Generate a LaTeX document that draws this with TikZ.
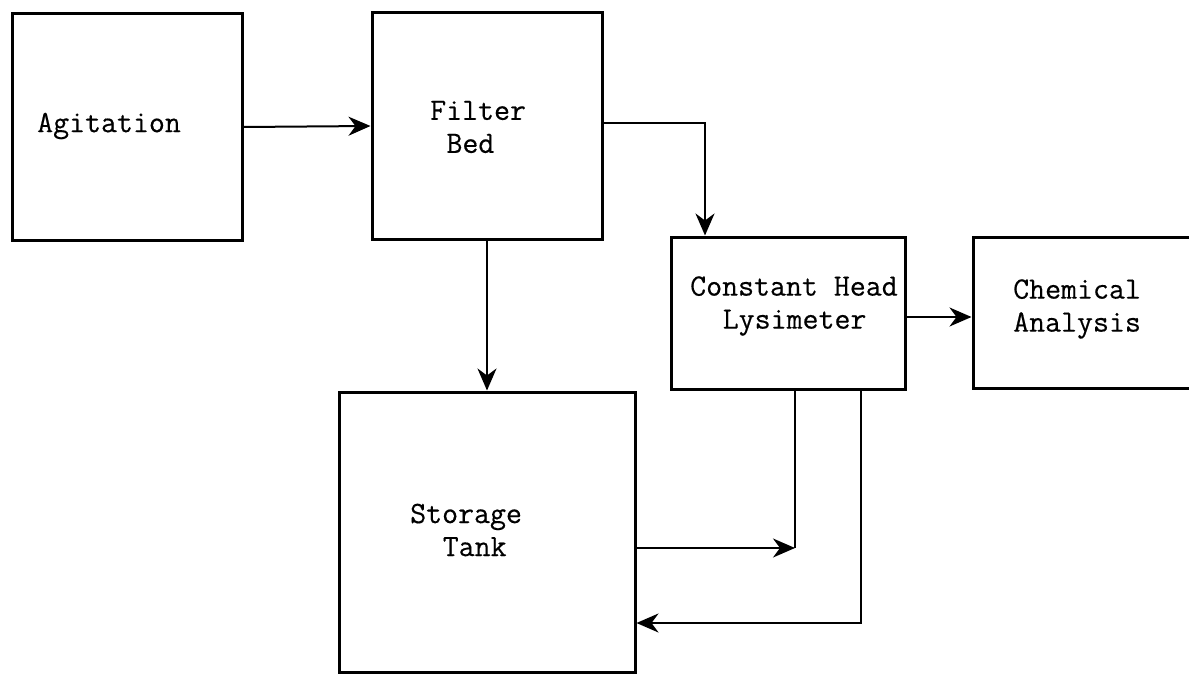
\documentclass[tikz,border=0pt]{standalone}
\usepackage{fontspec}
\setmonofont{Latin Modern Mono}[FakeBold=0.4]
\usetikzlibrary{arrows.meta}

\begin{document}
\begin{tikzpicture}[x=1pt,y=-1pt,
  box/.style={draw, line width=3pt, inner sep=0},
  lbl/.style={inner sep=0, align=left, anchor=west, font=\ttfamily\fontsize{31}{33}\selectfont},
  pipe/.style={line width=2pt},
  flow/.style={pipe, -{Stealth[length=22pt,width=19pt,inset=7pt]}}]
\clip (0,0) rectangle (1189,674);
% process boxes
\node[box, minimum width=230pt, minimum height=226pt] (agit) at (127,127) {};
\node[box, minimum width=230pt, minimum height=226pt] (filt) at (487,126) {};
\node[box, minimum width=234pt, minimum height=152pt] (lysi) at (788,313) {};
\node[box, minimum width=234pt, minimum height=151pt] (chem) at (1090,312.5) {};
\node[box, minimum width=296pt, minimum height=280pt] (stor) at (487,532) {};
% labels
\node[lbl] (agitL) at (37,126) {Agitation};
\node[lbl] (filtL) at (430,127) {Filter\\\hspace*{0.525em}Bed};
\node[lbl] (lysiL) at (690,306) {Constant Head\\\hspace*{1.05em}Lysimeter};
\node[lbl] (chemL) at (1013,309) {Chemical\\Analysis};
\node[lbl] (storL) at (410,530) {Storage\\\hspace*{1.05em}Tank};
% connections
\draw[flow] (agit.east) -- (filt.west);
\draw[flow] ([yshift=3]filt.east) -| ([xshift=-83]lysi.north);
\draw[flow] (filt.south) -- (stor.north);
\draw[flow] ([yshift=-4]lysi.east) -- ([yshift=-4]lysi.east -| chem.west);
\path ([xshift=7]lysi.south) coordinate (dnA);
\path ([yshift=-16]stor.east) coordinate (inA);
\draw[pipe] (dnA) -- (dnA |- inA);
\draw[flow] (inA) -- (dnA |- inA);
\draw[flow] ([xshift=73]lysi.south) |- ([yshift=-91]stor.east);
\end{tikzpicture}
\end{document}
